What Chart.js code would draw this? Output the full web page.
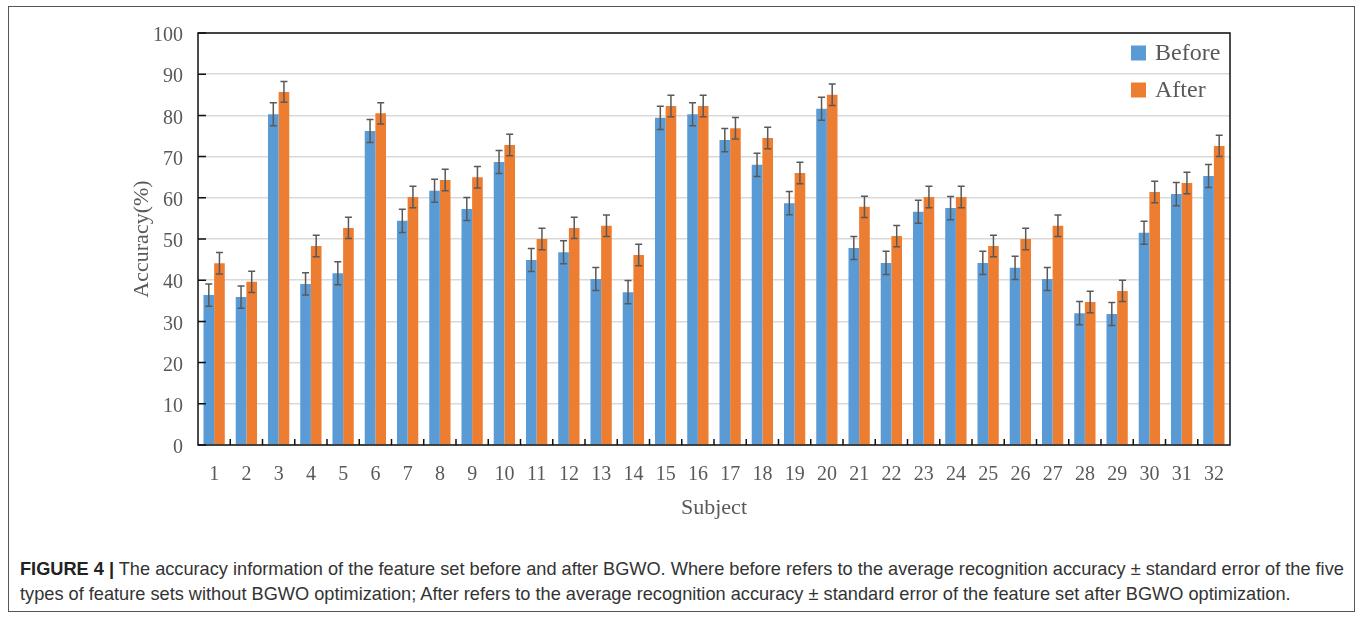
<!DOCTYPE html>
<html>
<head>
<meta charset="utf-8">
<script src="https://cdn.jsdelivr.net/npm/chart.js@4"></script>
<style>
    body { margin: 0; background: #fff; }
    #frame {
        position: absolute; left: 8px; top: 6px; width: 1347px; height: 606px;
        border: 1.5px solid #555; box-sizing: border-box;
    }
    #chart-box { position: absolute; left: 0; top: 0; width: 1362px; height: 525px; }
    .caption {
        position: absolute; left: 20px; white-space: nowrap;
        font-family: "Liberation Sans", Arial, sans-serif;
        font-size: 18.2px; color: #333;
    }
    .caption b { color: #222; }
</style>
</head>
<body>
<div id="frame"></div>
<div id="chart-box"><canvas id="bar-chart" width="1362" height="525"></canvas></div>
<div class="caption" style="top:559px"><b>FIGURE 4 |</b> The accuracy information of the feature set before and after BGWO. Where before refers to the average recognition accuracy &plusmn; standard error of the five</div>
<div class="caption" style="top:584px">types of feature sets without BGWO optimization; After refers to the average recognition accuracy &plusmn; standard error of the feature set after BGWO optimization.</div>
<script>
// accuracy before / after BGWO

var subjects = ["1", "2", "3", "4", "5", "6", "7", "8", "9", "10", "11", "12", "13", "14", "15", "16",
    "17", "18", "19", "20", "21", "22", "23", "24", "25", "26", "27", "28", "29", "30", "31", "32"];

var beforeData = [36.4, 35.9, 80.3, 39.1, 41.7, 76.2, 54.4, 61.7, 57.3, 68.7, 44.9, 46.8, 40.3, 37.1, 79.4, 80.3,
    74.0, 68.0, 58.7, 81.6, 47.8, 44.2, 56.6, 57.5, 44.2, 43.0, 40.3, 32.0, 31.8, 51.5, 60.9, 65.3];
var afterData = [44.1, 39.6, 85.7, 48.3, 52.7, 80.5, 60.2, 64.3, 65.0, 72.8, 50.0, 52.7, 53.2, 46.1, 82.3, 82.3,
    76.9, 74.5, 66.0, 85.0, 57.8, 50.7, 60.2, 60.2, 48.3, 50.0, 53.2, 34.7, 37.4, 61.4, 63.6, 72.6];

var beforeErr = [2.7, 2.7, 2.8, 2.7, 2.8, 2.8, 2.8, 2.8, 2.8, 2.8, 2.8, 2.8, 2.8, 2.8, 2.8, 2.8,
    2.8, 2.8, 2.8, 2.8, 2.8, 2.8, 2.8, 2.8, 2.8, 2.8, 2.8, 2.8, 2.8, 2.8, 2.8, 2.8];
var afterErr = [2.6, 2.6, 2.5, 2.6, 2.6, 2.6, 2.6, 2.6, 2.6, 2.6, 2.6, 2.6, 2.6, 2.6, 2.6, 2.6,
    2.6, 2.6, 2.6, 2.6, 2.6, 2.6, 2.6, 2.6, 2.6, 2.6, 2.6, 2.6, 2.6, 2.6, 2.6, 2.6];

var yTicks = [0, 10, 20, 30, 40, 50, 60, 70, 80, 90, 100];

var textGray = "#595959";
var serif = "'Liberation Serif', 'Times New Roman', serif";

// error bars, inner tick marks, frame and legend
var extras = {
    id: "extras",
    afterDatasetsDraw: function (chart) {
        var ctx = chart.ctx;
        var y = chart.scales.y;
        var errs = [beforeErr, afterErr];
        ctx.save();
        chart.data.datasets.forEach(function (ds, i) {
            var meta = chart.getDatasetMeta(i);
            meta.data.forEach(function (bar, j) {
                var top = y.getPixelForValue(ds.data[j] + errs[i][j]);
                var bot = y.getPixelForValue(ds.data[j] - errs[i][j]);
                ctx.strokeStyle = "#595959";
                ctx.lineWidth = 1.5;
                ctx.beginPath();
                ctx.moveTo(bar.x, top);
                ctx.lineTo(bar.x, bot);
                ctx.moveTo(bar.x - 3.5, top);
                ctx.lineTo(bar.x + 3.5, top);
                ctx.moveTo(bar.x - 3.5, bot);
                ctx.lineTo(bar.x + 3.5, bot);
                ctx.stroke();
            });
        });
        ctx.restore();
    },
    afterDraw: function (chart) {
        var ctx = chart.ctx;
        var a = chart.chartArea;
        var x = chart.scales.x;
        var y = chart.scales.y;
        ctx.save();
        ctx.strokeStyle = "#111";
        ctx.lineWidth = 1.5;
        ctx.strokeRect(a.left, a.top, a.right - a.left, a.bottom - a.top);

        ctx.beginPath();
        yTicks.forEach(function (t) {
            var py = y.getPixelForValue(t);
            ctx.moveTo(a.left, py);
            ctx.lineTo(a.left + 8, py);
        });
        var step = (a.right - a.left) / subjects.length;
        for (var k = 1; k < subjects.length; k++) {
            var px = x.getPixelForValue(k) - step / 2;
            ctx.moveTo(px, a.bottom);
            ctx.lineTo(px, a.bottom - 6);
        }
        ctx.stroke();

        // legend inside plot, top right
        ctx.font = "24px " + serif;
        ctx.textBaseline = "middle";
        chart.data.datasets.forEach(function (ds, i) {
            var cy = 53 + i * 37;
            ctx.fillStyle = ds.backgroundColor;
            ctx.fillRect(1131, cy - 7.5, 15, 15);
            ctx.fillStyle = textGray;
            ctx.fillText(ds.label, 1155, cy + 1);
        });
        ctx.restore();
    }
};

new Chart(document.getElementById("bar-chart"), {
    type: "bar",
    data: {
        labels: subjects,
        datasets: [
            { label: "Before", data: beforeData, backgroundColor: "#5B9BD5" },
            { label: "After", data: afterData, backgroundColor: "#ED7D31" }
        ]
    },
    options: {
        responsive: false,
        animation: false,
        devicePixelRatio: 1,
        layout: { padding: { left: 125, top: 33, right: 132, bottom: 0 } },
        categoryPercentage: 0.66,
        barPercentage: 1.0,
        plugins: {
            legend: { display: false },
            tooltip: { enabled: false }
        },
        scales: {
            x: {
                grid: { display: false, drawTicks: false },
                border: { display: false },
                ticks: { color: textGray, font: { family: serif, size: 20 }, padding: 18, maxRotation: 0, autoSkip: false },
                title: { display: true, text: "Subject", color: textGray, font: { family: serif, size: 22 }, padding: { top: 4, bottom: 4 } },
                afterFit: function (scale) { scale.height = 80; }
            },
            y: {
                min: 0,
                max: 100,
                grid: { color: "#d9d9d9", lineWidth: 1.5, drawTicks: false },
                border: { display: false },
                ticks: { stepSize: 10, color: textGray, font: { family: serif, size: 20 }, padding: 15, labelOffset: 3 },
                title: { display: true, text: "Accuracy(%)", color: textGray, font: { family: serif, size: 22 }, padding: { top: 4, bottom: 4 } },
                afterFit: function (scale) { scale.width = 73; }
            }
        }
    },
    plugins: [extras]
});
</script>
</body>
</html>
